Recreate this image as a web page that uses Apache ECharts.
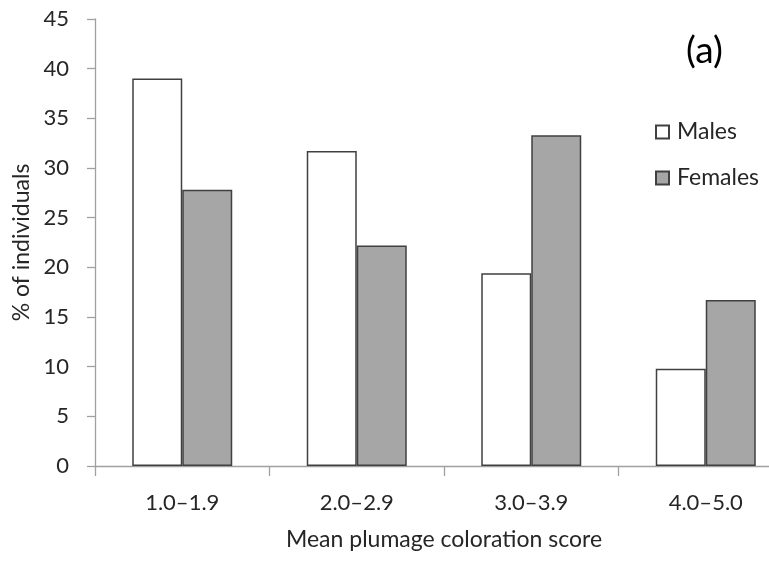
<!DOCTYPE html>
<html><head><meta charset="utf-8">
<script src="https://cdn.jsdelivr.net/npm/echarts@6/dist/echarts.min.js"></script>
<style>html,body{margin:0;padding:0;background:#fff}#c{width:769px;height:562px}</style>
</head><body><div id="c"></div>
<script>
var categories = ['1.0–1.9', '2.0–2.9', '3.0–3.9', '4.0–5.0'];
var males = [39.0, 31.7, 19.4, 9.8];
var females = [27.8, 22.2, 33.3, 16.7];
var yTicks = [0, 45, 5];
var FONT = 'Lato';
var txt = '#262626';
var chart = echarts.init(document.getElementById('c'));
chart.setOption({
  animation: false,
  textStyle: {fontFamily: FONT},
  grid: {left: 95, top: 19, bottom: 96, width: 698, containLabel: false, outerBoundsMode: 'none'},
  graphic: [{type: 'text', left: 686, top: 33, style: {text: '(a)', font: '37px Lato', fill: '#000'}}],
  legend: {
    orient: 'vertical', left: 655, top: 120, padding: 0, itemWidth: 13, itemHeight: 13, itemGap: 22, icon: 'rect',
    textStyle: {fontFamily: FONT, fontSize: 23, color: txt, lineHeight: 24, padding: [0, 0, 0, 3]},
    data: ['Males', 'Females']
  },
  xAxis: {
    type: 'category', data: categories,
    axisLine: {lineStyle: {color: '#a0a0a0', width: 1.3}},
    axisTick: {show: true, length: 10, lineStyle: {color: '#a0a0a0', width: 1.3}},
    axisLabel: {fontFamily: FONT, fontSize: 22, color: txt, margin: 26},
    name: 'Mean plumage coloration score', nameLocation: 'middle', nameGap: 62,
    nameTextStyle: {fontFamily: FONT, fontSize: 23, color: txt}
  },
  yAxis: {
    type: 'value', min: yTicks[0], max: yTicks[1], interval: yTicks[2],
    splitLine: {show: false},
    axisLine: {show: true, lineStyle: {color: '#a0a0a0', width: 1.3}},
    axisTick: {show: true, length: 8, lineStyle: {color: '#a0a0a0', width: 1.3}},
    axisLabel: {fontFamily: FONT, fontSize: 22, color: txt, margin: 26},
    name: '% of individuals', nameLocation: 'middle', nameGap: 62, nameRotate: 90,
    nameTextStyle: {fontFamily: FONT, fontSize: 23, color: txt}
  },
  series: [
    {name: 'Males', type: 'bar', data: males, barWidth: 50, barGap: '0%',
     itemStyle: {color: '#ffffff', borderColor: '#404040', borderWidth: 1.5}},
    {name: 'Females', type: 'bar', data: females, barWidth: 50, barGap: '0%',
     itemStyle: {color: '#a6a6a6', borderColor: '#404040', borderWidth: 1.5}}
  ]
});
</script></body></html>
